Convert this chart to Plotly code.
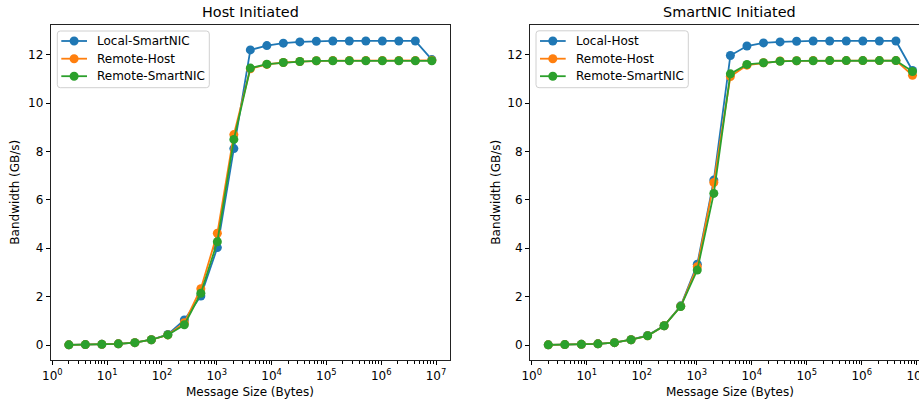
import plotly.graph_objects as go

W, H = 919, 404

msg_sizes = [2 ** k for k in range(1, 24)]

host_local_smartnic = [0.01, 0.02, 0.03, 0.05, 0.10, 0.22, 0.44, 1.04, 2.03, 4.03, 8.12, 12.20,
                       12.38, 12.48, 12.53, 12.56, 12.57, 12.57, 12.57, 12.57, 12.57, 12.57, 11.80]
host_remote_host = [0.01, 0.02, 0.03, 0.05, 0.10, 0.22, 0.42, 0.92, 2.33, 4.62, 8.70, 11.42,
                    11.60, 11.68, 11.72, 11.75, 11.76, 11.76, 11.76, 11.76, 11.76, 11.76, 11.77]
host_remote_smartnic = [0.01, 0.02, 0.03, 0.05, 0.10, 0.22, 0.42, 0.84, 2.14, 4.27, 8.50, 11.45,
                        11.61, 11.68, 11.72, 11.75, 11.75, 11.75, 11.75, 11.75, 11.75, 11.75, 11.75]

nic_local_host = [0.01, 0.02, 0.03, 0.05, 0.10, 0.22, 0.40, 0.80, 1.62, 3.34, 6.82, 11.97,
                  12.36, 12.49, 12.53, 12.56, 12.57, 12.57, 12.57, 12.57, 12.57, 12.57, 11.35]
nic_remote_host = [0.01, 0.02, 0.03, 0.05, 0.10, 0.22, 0.38, 0.80, 1.60, 3.24, 6.72, 11.10,
                   11.57, 11.67, 11.74, 11.75, 11.76, 11.76, 11.76, 11.76, 11.76, 11.76, 11.15]
nic_remote_smartnic = [0.01, 0.02, 0.03, 0.05, 0.10, 0.22, 0.38, 0.80, 1.59, 3.10, 6.27, 11.21,
                       11.60, 11.67, 11.73, 11.75, 11.75, 11.76, 11.76, 11.76, 11.76, 11.76, 11.31]

titles = ["Host Initiated", "SmartNIC Initiated"]
x_label = "Message Size (Bytes)"
y_label = "Bandwidth (GB/s)"
x_tickvals = [10 ** k for k in range(0, 8)]
x_ticktext = ["10<sup>%d</sup>" % k for k in range(0, 8)]
y_tickvals = [0, 2, 4, 6, 8, 10, 12]

colors = ["#1f77b4", "#ff7f0e", "#2ca02c"]
FONT = "DejaVu Sans"
FS = 12
TFS = 14.4

panels = [
    (["Local-SmartNIC", "Remote-Host", "Remote-SmartNIC"],
     [host_local_smartnic, host_remote_host, host_remote_smartnic]),
    (["Local-Host", "Remote-Host", "Remote-SmartNIC"],
     [nic_local_host, nic_remote_host, nic_remote_smartnic]),
]

fig = go.Figure()
for p, (names, series) in enumerate(panels):
    xa = "x" if p == 0 else "x2"
    ya = "y" if p == 0 else "y2"
    for i, (nm, vals) in enumerate(zip(names, series)):
        fig.add_trace(go.Scatter(
            x=msg_sizes, y=vals, name=nm, mode="lines+markers",
            line=dict(color=colors[i], width=1.8),
            marker=dict(color=colors[i], size=9),
            xaxis=xa, yaxis=ya, showlegend=False,
        ))

# pixel geometry
top_px, bot_px = 25, 360.3
ydom = [(H - bot_px) / H, (H - top_px) / H]
left_dom = [50.7 / W, 450 / W]
right_dom = [530 / W, 1.0]

common_x = dict(
    type="log", tickvals=x_tickvals, ticktext=x_ticktext, automargin=False,
    ticks="outside", ticklen=4, tickwidth=0.8, tickcolor="black",
    showgrid=False, zeroline=False, showline=True, linecolor="#222", linewidth=1,
    tickfont=dict(family=FONT, size=FS, color="black"),
    ticklabeloverflow="allow",
    minor=dict(ticks="outside", ticklen=2.2, tickwidth=0.6, tickcolor="black",
               dtick="D1", showgrid=False),
)
common_y = dict(
    range=[-0.63, 13.23], tickvals=y_tickvals, automargin=False,
    ticks="outside", ticklen=4, tickwidth=0.8, tickcolor="black",
    showgrid=False, zeroline=False, showline=True, linecolor="#222", linewidth=1,
    tickfont=dict(family=FONT, size=FS, color="black"),
)

fig.update_layout(
    width=W, height=H, autosize=False,
    margin=dict(l=0, r=0, t=0, b=0, pad=0),
    paper_bgcolor="white", plot_bgcolor="white",
    font=dict(family=FONT, size=FS, color="black"),
    xaxis=dict(common_x, domain=left_dom, range=[-0.03, 7.255], mirror=True, anchor="y"),
    yaxis=dict(common_y, domain=ydom, mirror=True, anchor="x"),
    xaxis2=dict(common_x, domain=right_dom, range=[-0.031, 7.042], mirror=True, anchor="y2"),
    yaxis2=dict(common_y, domain=ydom, mirror=False, anchor="x2"),
    showlegend=False,
)


def px(x):
    return x / W


def py(y):
    return (H - y) / H


centers = [(50.7 + 450) / 2, (530 + 929) / 2]
ylabel_x = [15, 496]
for p in range(2):
    fig.add_annotation(text=titles[p], x=px(centers[p]), y=py(12), xref="paper", yref="paper",
                       xanchor="center", yanchor="middle", showarrow=False,
                       font=dict(family=FONT, size=TFS, color="black"))
    fig.add_annotation(text=x_label, x=px(centers[p]), y=py(392), xref="paper", yref="paper",
                       xanchor="center", yanchor="middle", showarrow=False,
                       font=dict(family=FONT, size=FS, color="black"))
    fig.add_annotation(text=y_label, x=px(ylabel_x[p]), y=py((top_px + bot_px) / 2),
                       xref="paper", yref="paper", textangle=-90,
                       xanchor="center", yanchor="middle", showarrow=False,
                       font=dict(family=FONT, size=FS, color="black"))

# legends (drawn with paper-positioned shapes / text), one per panel
legend_boxes = [(57.3, 31.0, 209.3, 87.7), (536.0, 30.8, 688.3, 87.7)]
row_ys = [41.0, 58.7, 76.2]
for p, (names, _) in enumerate(panels):
    x0, y0, x1, y1 = legend_boxes[p]
    r = 3.0
    path = (f"M {px(x0 + r)} {py(y0)} L {px(x1 - r)} {py(y0)} Q {px(x1)} {py(y0)} {px(x1)} {py(y0 + r)} "
            f"L {px(x1)} {py(y1 - r)} Q {px(x1)} {py(y1)} {px(x1 - r)} {py(y1)} "
            f"L {px(x0 + r)} {py(y1)} Q {px(x0)} {py(y1)} {px(x0)} {py(y1 - r)} "
            f"L {px(x0)} {py(y0 + r)} Q {px(x0)} {py(y0)} {px(x0 + r)} {py(y0)} Z")
    fig.add_shape(type="path", path=path, xref="paper", yref="paper",
                  fillcolor="rgba(255,255,255,0.8)", line=dict(color="#d0d0d0", width=1))
    lx0 = x0 + 4
    for i, nm in enumerate(names):
        ry = row_ys[i]
        fig.add_shape(type="line", xref="paper", yref="paper",
                      x0=px(lx0), x1=px(lx0 + 25.7), y0=py(ry), y1=py(ry),
                      line=dict(color=colors[i], width=1.8))
        cx, rr = lx0 + 12.8, 4.5
        fig.add_shape(type="circle", xref="paper", yref="paper",
                      x0=px(cx - rr), x1=px(cx + rr), y0=py(ry + rr), y1=py(ry - rr),
                      fillcolor=colors[i], line=dict(width=0))
        fig.add_annotation(text=nm, x=px(lx0 + 34.5), y=py(ry), xref="paper", yref="paper",
                           xanchor="left", yanchor="middle", showarrow=False, borderpad=0,
                           font=dict(family=FONT, size=FS, color="black"))

fig.write_html("out.html")
